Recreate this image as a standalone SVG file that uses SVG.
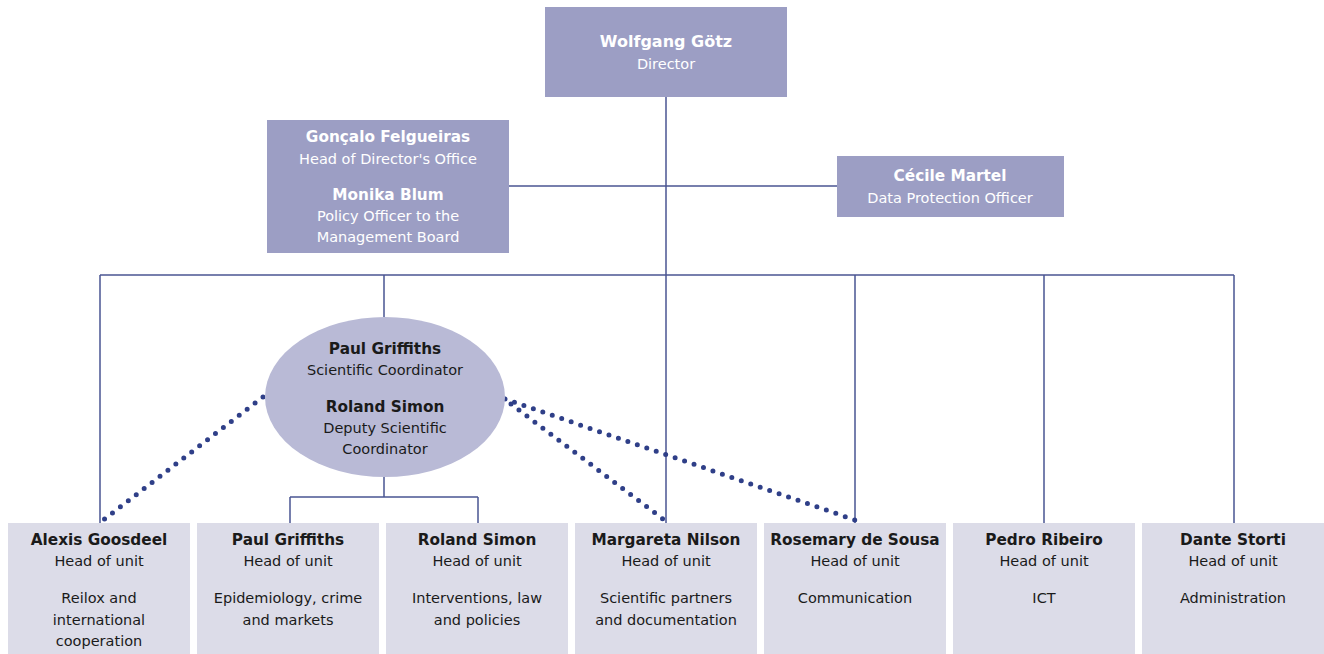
<svg xmlns="http://www.w3.org/2000/svg" width="1324" height="654" viewBox="0 0 1324 654">
<style>
text{font-family:"DejaVu Sans","Liberation Sans",Arial,sans-serif;font-size:14.5px;text-anchor:middle}
.b{font-weight:bold;font-size:15.3px}
.big{font-size:16px}
.w{fill:#ffffff}
.d{fill:#1a1a1a}
.top{fill:#9c9ec4}
.unit{fill:#dcdce8}
.ln{stroke:#4a5592;stroke-width:1.5;fill:none}
.dot{stroke:#2f3f88;stroke-width:5;stroke-linecap:round;stroke-dasharray:0 10;fill:none}
</style>
<g id="connectors">
<path class="ln" d="M666 97V523"/>
<path class="ln" d="M509 186H837"/>
<path class="ln" d="M100 275H1234"/>
<path class="ln" d="M100 275V523M384 275V317M855 275V523M1044 275V523M1234 275V523"/>
<path class="ln" d="M384 477V497M290 497H478M290 497V523M478 497V523"/>
<path class="dot" d="M263 397L102 521"/>
<path class="dot" d="M503 398L663 519"/>
<path class="dot" d="M505 399L855 520"/>
</g>
<g id="director">
<rect class="top" x="545" y="7" width="242" height="90"/>
<text class="b big w" x="666" y="47">Wolfgang Götz</text>
<text class="w" x="666" y="69">Director</text>
</g>
<g id="directors-office">
<rect class="top" x="267" y="120" width="242" height="133"/>
<text class="b w" x="388" y="142">Gonçalo Felgueiras</text>
<text class="w" x="388" y="164">Head of Director's Office</text>
<text class="b w" x="388" y="200">Monika Blum</text>
<text class="w" x="388" y="221">Policy Officer to the</text>
<text class="w" x="388" y="242">Management Board</text>
</g>
<g id="dpo">
<rect class="top" x="837" y="156" width="227" height="61"/>
<text class="b w" x="950" y="181">Cécile Martel</text>
<text class="w" x="950" y="203">Data Protection Officer</text>
</g>
<g id="scientific-coordinator">
<ellipse cx="385" cy="397" rx="120" ry="80" fill="#b9bad6"/>
<text class="b d" x="385" y="354">Paul Griffiths</text>
<text class="d" x="385" y="375">Scientific Coordinator</text>
<text class="b d" x="385" y="412">Roland Simon</text>
<text class="d" x="385" y="433">Deputy Scientific</text>
<text class="d" x="385" y="454">Coordinator</text>
</g>
<g id="unit-goosdeel">
<rect class="unit" x="8" y="523" width="182" height="131"/>
<text class="b d" x="99" y="545">Alexis Goosdeel</text>
<text class="d" x="99" y="566">Head of unit</text>
<text class="d" x="99" y="603">Reilox and</text>
<text class="d" x="99" y="625">international</text>
<text class="d" x="99" y="646">cooperation</text>
</g>
<g id="unit-griffiths">
<rect class="unit" x="197" y="523" width="182" height="131"/>
<text class="b d" x="288" y="545">Paul Griffiths</text>
<text class="d" x="288" y="566">Head of unit</text>
<text class="d" x="288" y="603">Epidemiology, crime</text>
<text class="d" x="288" y="625">and markets</text>
</g>
<g id="unit-simon">
<rect class="unit" x="386" y="523" width="182" height="131"/>
<text class="b d" x="477" y="545">Roland Simon</text>
<text class="d" x="477" y="566">Head of unit</text>
<text class="d" x="477" y="603">Interventions, law</text>
<text class="d" x="477" y="625">and policies</text>
</g>
<g id="unit-nilson">
<rect class="unit" x="575" y="523" width="182" height="131"/>
<text class="b d" x="666" y="545">Margareta Nilson</text>
<text class="d" x="666" y="566">Head of unit</text>
<text class="d" x="666" y="603">Scientific partners</text>
<text class="d" x="666" y="625">and documentation</text>
</g>
<g id="unit-desousa">
<rect class="unit" x="764" y="523" width="182" height="131"/>
<text class="b d" x="855" y="545">Rosemary de Sousa</text>
<text class="d" x="855" y="566">Head of unit</text>
<text class="d" x="855" y="603">Communication</text>
</g>
<g id="unit-ribeiro">
<rect class="unit" x="953" y="523" width="182" height="131"/>
<text class="b d" x="1044" y="545">Pedro Ribeiro</text>
<text class="d" x="1044" y="566">Head of unit</text>
<text class="d" x="1044" y="603">ICT</text>
</g>
<g id="unit-storti">
<rect class="unit" x="1142" y="523" width="182" height="131"/>
<text class="b d" x="1233" y="545">Dante Storti</text>
<text class="d" x="1233" y="566">Head of unit</text>
<text class="d" x="1233" y="603">Administration</text>
</g>
</svg>
